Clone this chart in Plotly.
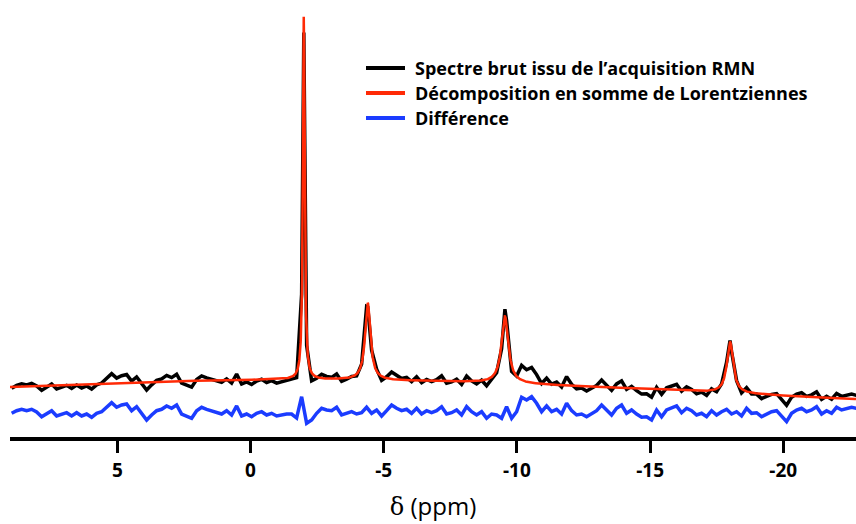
import numpy as np
import plotly.graph_objects as go

# ---- Data ----
# Lorentzian components of the fit (centre ppm, FWHM ppm, amplitude a.u.)
peak_center = [-2.0, -4.4, -9.55, -18.0, -2.0]
peak_fwhm = [0.08, 0.24, 0.31, 0.28, 58.0]
peak_amp = [86.4, 18.3, 15.9, 12.2, 13.6]

# Residual (raw - fit) sampled along the acquisition grid
grid_start, grid_stop = 8.968, -22.752
difference = [
    -0.31, 0.31, 0.64, 0.31, 0.64, 0.00, -1.12, -0.48, 0.31, -0.95,
    -0.48, -0.17, -0.95, -0.17, -0.95, -0.48, -1.26, -0.31, 0.07, 1.26,
    2.21, 1.12, 1.66, 1.90, 0.31, 1.26, -0.31, -1.90, -0.71, 0.31,
    0.64, 1.43, 0.88, 1.66, -0.48, -0.95, -1.50, 0.31, 1.12, 0.64,
    0.31, -0.17, -0.48, 0.31, -0.71, 1.43, -0.95, -0.48, -1.12, -0.31,
    0.07, -0.71, -0.31, -0.95, -0.71,
    -0.48, -0.48, -1.43, 3.63, -2.68, -1.90, -0.31, 0.88, 0.48, 0.31,
    1.12, -0.71, -0.31, 0.07, -0.48, -0.17, 1.12, -0.31, 0.48, -0.95,
    0.31, 1.66, 0.88, 0.31, 0.64, -0.31, 0.88, -0.48, 0.31, -0.17,
    0.31, 1.26, -0.48, -0.17, 0.48, -0.71, 1.26, 0.07, -0.71, 0.07,
    -1.50, -0.48, -0.71, -1.50, 1.26, -1.50, 0.07, 3.49, 2.85, 3.63,
    2.07, 0.07, 1.43, 0.07, 0.64, -0.48, 2.07,
    0.31, -0.71, -0.48, -1.12, -0.31, 0.31, 1.66, 0.48, -0.71, 0.88,
    1.66, -0.31, 0.48, -0.48, -1.26, -1.12, -1.90, 0.48, -1.12, 0.48,
    0.88, 1.43, -0.17, 0.88, 0.31, -0.71, -0.31, -1.12, 0.31, -0.71,
    0.07, 0.64, -0.48, 0.07, -0.95, 0.88, -0.31, -0.17, -1.12, -0.48,
    0.07, 0.31, -0.95, -2.30, -0.31, 0.48, 0.88, 0.07, 0.48, 1.26,
    -0.48, 0.31, -0.31, 1.12, 0.48, 0.88, 1.12, 0.88,
]
# residual at the apex of each line
apex_ppm = [-2.0, -4.4, -9.55, -18.0]
apex_diff = [-4.0, -1.0, 1.7, 0.3]
diff_offset = 5.94  # vertical offset of the residual trace

x_ticks = [5, 0, -5, -10, -15, -20]
x_range = [9.03, -22.73]

labels = ["Spectre brut issu de l\u2019acquisition RMN",
          "D\u00e9composition en somme de Lorentziennes",
          "Diff\u00e9rence"]
colors = ["#000000", "#ff2a06", "#1b3cff"]


def fit(x):
    x = np.asarray(x, dtype=float)
    y = np.zeros_like(x)
    for c, w, a in zip(peak_center, peak_fwhm, peak_amp):
        y += a / (1.0 + ((x - c) / (w / 2.0)) ** 2)
    return y


grid = np.linspace(grid_start, grid_stop, len(difference))
diff = np.array(difference)

raw_x = np.concatenate([grid, apex_ppm])
raw_d = np.concatenate([diff, apex_diff])
order = np.argsort(-raw_x)
raw_x = raw_x[order]
raw_y = fit(raw_x) + raw_d[order]

fit_x = np.linspace(x_range[0], x_range[1], 6000)
fit_y = fit(fit_x)

fig = go.Figure()
fig.add_trace(go.Scatter(x=raw_x, y=raw_y, mode="lines", name=labels[0],
                         line=dict(color=colors[0], width=3.5)))
fig.add_trace(go.Scatter(x=fit_x, y=fit_y, mode="lines", name=labels[1],
                         line=dict(color=colors[1], width=2.5)))
fig.add_trace(go.Scatter(x=grid, y=diff + diff_offset, mode="lines", name=labels[2],
                         line=dict(color=colors[2], width=3.5)))

# legend drawn as shapes + text
W, H = 846.0, 437.0
leg_y = [68, 93, 118]
for lab, col, py in zip(labels, colors, leg_y):
    yp = (437 - py) / H
    fig.add_shape(type="line", xref="paper", yref="paper",
                  x0=(366 - 10) / W, x1=(405 - 10) / W, y0=yp, y1=yp,
                  line=dict(color=col, width=4))
    fig.add_annotation(xref="paper", yref="paper", x=(413 - 10) / W, y=yp,
                       text=lab, showarrow=False, xanchor="left", yanchor="middle",
                       font=dict(family="Open Sans", size=18, color="#000000", weight="bold"))

fig.update_layout(
    width=856, height=524,
    margin=dict(l=10, r=0, t=0, b=87),
    paper_bgcolor="white", plot_bgcolor="white",
    showlegend=False,
    xaxis=dict(range=x_range, tickvals=x_ticks, ticktext=[str(v) for v in x_ticks],
               showline=True, linecolor="black", linewidth=3.5,
               ticks="outside", ticklen=12, tickwidth=3, tickcolor="black",
               showgrid=False, zeroline=False, ticklabelstandoff=1,
               tickfont=dict(family="Open Sans", size=19, color="black", weight="bold"),
               title=dict(text="<span style=\"font-family:'DejaVu Serif'\">\u03b4</span> (ppm)",
                          font=dict(family="Open Sans", size=24, color="black"),
                          standoff=18)),
    yaxis=dict(range=[0, 103.8], visible=False, fixedrange=True),
)

fig.write_html("out.html")
